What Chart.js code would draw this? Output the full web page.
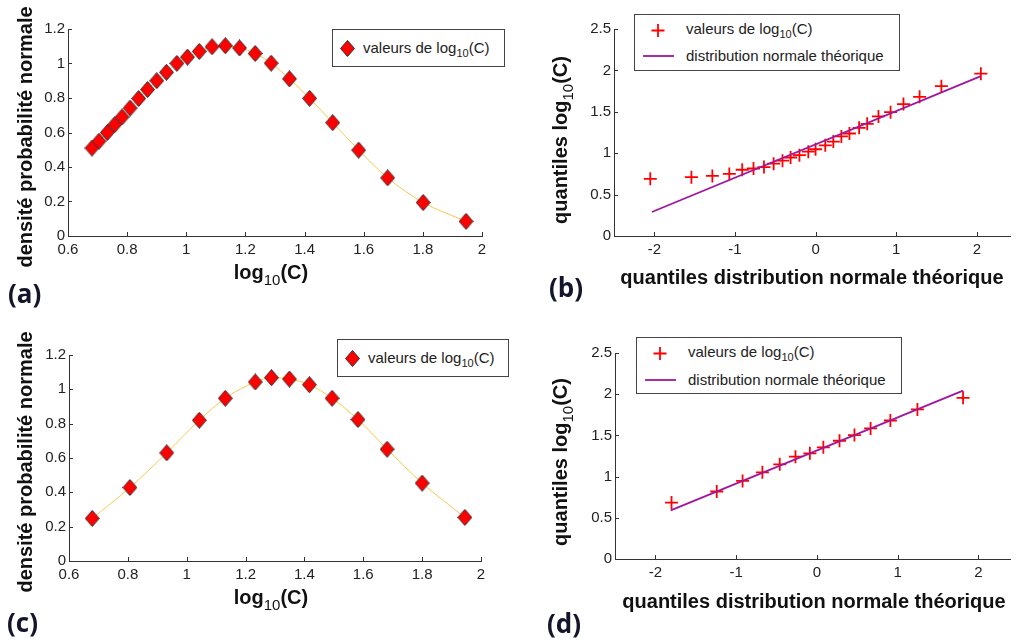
<!DOCTYPE html>
<html>
<head>
<meta charset="utf-8">
<script src="https://cdn.jsdelivr.net/npm/chart.js@4.4.1/dist/chart.umd.min.js"></script>
<style>
  body { margin: 0; background: #fff; }
  #fig { position: relative; width: 1019px; height: 642px; overflow: hidden; background: #fff;
         font-family: "Liberation Sans", Arial, sans-serif; }
  .panel { position: absolute; }
  .lbl { position: absolute; white-space: nowrap; color: #111; }
  .xt, .yt { font-weight: bold; font-size: 20px; line-height: 24px; }
  .xt { transform: translate(-50%, -50%); }
  .yt { transform: translate(-50%, -50%) rotate(-90deg); }
  .xt sub, .yt sub { font-weight: normal; font-size: 15px; vertical-align: -6px; line-height: 0; }
  .tag { font-family: "Open Sans", sans-serif; font-weight: bold; font-size: 26px; line-height: 30px;
         color: #14142b; transform: translateY(-50%); }
  .leg { position: absolute; border: 1px solid #444; background: #fff; box-sizing: border-box; }
  .leg .t { position: absolute; font-size: 15px; line-height: 18px; color: #222; white-space: nowrap;
            transform: translateY(-50%); }
  .leg .t sub { font-size: 11px; vertical-align: -4px; line-height: 0; }
  .leg svg { position: absolute; left: 0; top: 0; }
</style>
</head>
<body>
<div id="fig">
  <canvas class="panel" id="chartA" width="510" height="320" style="left:0;top:0"></canvas>
  <canvas class="panel" id="chartB" width="509" height="320" style="left:510px;top:0"></canvas>
  <canvas class="panel" id="chartC" width="510" height="322" style="left:0;top:320px"></canvas>
  <canvas class="panel" id="chartD" width="509" height="322" style="left:510px;top:320px"></canvas>

  <!-- (a) -->
  <div class="lbl yt" style="left:25px;top:137px">densité probabilité normale</div>
  <div class="lbl xt" style="left:271px;top:272px">log<sub>10</sub>(C)</div>
  <div class="lbl tag" style="left:8px;top:293px">(a)</div>
  <div class="leg" style="left:332px;top:29px;width:173px;height:38px">
    <svg width="171" height="36"><polygon points="14.5,10.5 21.5,18.5 14.5,26.5 7.5,18.5" fill="#ff0000" stroke="#333" stroke-width="1"/></svg>
    <div class="t" style="left:30px;top:18px">valeurs de log<sub>10</sub>(C)</div>
  </div>

  <!-- (b) -->
  <div class="lbl yt" style="left:560px;top:140px">quantiles log<sub>10</sub>(C)</div>
  <div class="lbl xt" style="left:812px;top:277px">quantiles distribution normale théorique</div>
  <div class="lbl tag" style="left:549px;top:287px">(b)</div>
  <div class="leg" style="left:634px;top:14px;width:266px;height:57px">
    <svg width="264" height="55"><path d="M16.5 15.5 H29.5 M23 9 V22" stroke="#ff0000" stroke-width="1.8" fill="none"/><line x1="8" y1="41" x2="39" y2="41" stroke="#a0179c" stroke-width="1.8"/></svg>
    <div class="t" style="left:51px;top:14px">valeurs de log<sub>10</sub>(C)</div>
    <div class="t" style="left:51px;top:41px">distribution normale théorique</div>
  </div>

  <!-- (c) -->
  <div class="lbl yt" style="left:25px;top:462px">densité probabilité normale</div>
  <div class="lbl xt" style="left:271px;top:597px">log<sub>10</sub>(C)</div>
  <div class="lbl tag" style="left:7px;top:622px">(c)</div>
  <div class="leg" style="left:337px;top:339px;width:172px;height:38px">
    <svg width="170" height="36"><polygon points="14.5,10.5 21.5,18.5 14.5,26.5 7.5,18.5" fill="#ff0000" stroke="#333" stroke-width="1"/></svg>
    <div class="t" style="left:30px;top:18px">valeurs de log<sub>10</sub>(C)</div>
  </div>

  <!-- (d) -->
  <div class="lbl yt" style="left:560px;top:462px">quantiles log<sub>10</sub>(C)</div>
  <div class="lbl xt" style="left:814px;top:601px">quantiles distribution normale théorique</div>
  <div class="lbl tag" style="left:547px;top:623px">(d)</div>
  <div class="leg" style="left:636px;top:337px;width:266px;height:57px">
    <svg width="264" height="55"><path d="M16.5 15.5 H29.5 M23 9 V22" stroke="#ff0000" stroke-width="1.8" fill="none"/><line x1="8" y1="42" x2="39" y2="42" stroke="#a0179c" stroke-width="1.8"/></svg>
    <div class="t" style="left:51px;top:14px">valeurs de log<sub>10</sub>(C)</div>
    <div class="t" style="left:51px;top:42px">distribution normale théorique</div>
  </div>
</div>

<script>
// ---- data ----
// (a) all values: log10(C) and fitted normal density
const logA  = [0.681, 0.705, 0.733, 0.758, 0.783, 0.810, 0.839, 0.869, 0.900, 0.933, 0.968, 1.004, 1.044,
               1.087, 1.132, 1.180, 1.233, 1.287, 1.349, 1.417, 1.495, 1.583, 1.681, 1.801, 1.946];
const densA = [0.510, 0.550, 0.600, 0.646, 0.690, 0.742, 0.797, 0.849, 0.900, 0.949, 1.001, 1.037, 1.070,
               1.097, 1.103, 1.090, 1.058, 1.002, 0.911, 0.798, 0.657, 0.498, 0.337, 0.194, 0.085];

// (b) normal QQ plot of the 25 values
const quantB = [-2.05, -1.54, -1.28, -1.07, -0.91, -0.77, -0.64, -0.52, -0.41, -0.31, -0.20, -0.09, 0.00,
                0.12, 0.22, 0.32, 0.42, 0.54, 0.64, 0.78, 0.93, 1.09, 1.29, 1.56, 2.05];
const logB   = [0.690, 0.710, 0.725, 0.750, 0.800, 0.815, 0.833, 0.873, 0.910, 0.948, 0.976, 1.018, 1.048,
                1.095, 1.140, 1.202, 1.238, 1.306, 1.355, 1.444, 1.496, 1.593, 1.681, 1.810, 1.960];
const refXB = [-2.03, 2.05];
const refYB = [0.29, 1.93];

// (c) reduced set
const logC  = [0.679, 0.807, 0.932, 1.043, 1.131, 1.233, 1.288, 1.349, 1.417, 1.494, 1.582, 1.681, 1.800, 1.945];
const densC = [0.248, 0.428, 0.630, 0.820, 0.948, 1.043, 1.068, 1.060, 1.027, 0.948, 0.824, 0.651, 0.454, 0.254];

// (d) normal QQ plot of the 14 values
const quantD = [-1.80, -1.24, -0.92, -0.675, -0.46, -0.265, -0.087, 0.08, 0.28, 0.465, 0.665, 0.91, 1.245, 1.81];
const logD   = [0.685, 0.819, 0.948, 1.052, 1.149, 1.242, 1.282, 1.355, 1.435, 1.504, 1.585, 1.681, 1.815, 1.956];
const refXD = [-1.81, 1.81];
const refYD = [0.59, 2.044];

// tick labels
const xTicksDens = [0.6, 0.8, 1, 1.2, 1.4, 1.6, 1.8, 2];
const yTicksDens = [0, 0.2, 0.4, 0.6, 0.8, 1, 1.2];
const xTicksQQ = [-2, -1, 0, 1, 2];
const yTicksQQ = [0, 0.5, 1, 1.5, 2, 2.5];

// ---- styles ----
const FONT = "'Liberation Sans', Arial, sans-serif";
const YELLOW = '#f8c84e';
const PURPLE = '#a0179c';
const AXIS = '#333';

const diamond = (() => {
    const c = document.createElement('canvas');
    c.width = 15; c.height = 17;
    const g = c.getContext('2d');
    g.beginPath();
    g.moveTo(7.5, 0.5); g.lineTo(14.5, 8.5); g.lineTo(7.5, 16.5); g.lineTo(0.5, 8.5);
    g.closePath();
    g.fillStyle = '#ff0000'; g.fill();
    g.strokeStyle = '#333'; g.lineWidth = 1; g.stroke();
    return c;
})();

const pts = (xs, ys) => xs.map((x, i) => ({ x, y: ys[i] }));

// small inward ticks, like the original figure
const inwardTicks = {
    id: 'inwardTicks',
    afterDraw(chart) {
        const { ctx, chartArea: a, scales: { x, y } } = chart;
        ctx.save();
        ctx.strokeStyle = AXIS;
        ctx.lineWidth = 1;
        ctx.beginPath();
        x.ticks.forEach(t => {
            const px = Math.round(x.getPixelForValue(t.value)) + 0.5;
            ctx.moveTo(px, a.bottom);
            ctx.lineTo(px, a.bottom - 4);
        });
        y.ticks.forEach(t => {
            const py = Math.round(y.getPixelForValue(t.value)) + 0.5;
            ctx.moveTo(a.left, py);
            ctx.lineTo(a.left + 4, py);
        });
        ctx.stroke();
        ctx.restore();
    }
};

function axis(min, max, tickVals, isX) {
    return {
        type: 'linear', min, max,
        grid: { display: false, drawTicks: false },
        border: { display: true, color: AXIS, width: 1 },
        ticks: {
            autoSkip: false, maxRotation: 0, padding: isX ? 5 : 3,
            color: '#222', font: { family: FONT, size: 15 },
            callback: v => String(v)
        },
        afterBuildTicks: s => { s.ticks = tickVals.map(v => ({ value: v })); },
        afterFit: s => { if (isX) s.height = 30; else s.width = 40; }
    };
}

function makeChart(id, datasets, xr, yr, xTicks, yTicks, padding) {
    return new Chart(document.getElementById(id), {
        type: 'scatter',
        data: { datasets },
        options: {
            responsive: false, animation: false, events: [],
            layout: { padding },
            plugins: { legend: { display: false }, tooltip: { enabled: false } },
            scales: {
                x: axis(xr[0], xr[1], xTicks, true),
                y: axis(yr[0], yr[1], yTicks, false)
            }
        },
        plugins: [inwardTicks]
    });
}

function densitySet(xs, ys) {
    return {
        data: pts(xs, ys), showLine: true,
        borderColor: YELLOW, borderWidth: 1, cubicInterpolationMode: 'monotone',
        pointStyle: diamond, pointRadius: 7
    };
}

function qqSets(qx, qy, rx, ry) {
    return [
        { data: pts(rx, ry), showLine: true, borderColor: PURPLE, borderWidth: 1.8, pointRadius: 0, order: 0 },
        { data: pts(qx, qy), pointStyle: 'cross', pointRadius: 6.5, borderColor: '#ff0000',
          borderWidth: 1.8, order: 1 }
    ];
}

makeChart('chartA', [densitySet(logA, densA)], [0.6, 2], [0, 1.2], xTicksDens, yTicksDens,
    { left: 28, right: 28, top: 29, bottom: 54 });
makeChart('chartB', qqSets(quantB, logB, refXB, refYB), [-2.5, 2.42], [0, 2.5], xTicksQQ, yTicksQQ,
    { left: 64, right: 0, top: 29, bottom: 54 });
makeChart('chartC', [densitySet(logC, densC)], [0.6, 2], [0, 1.2], xTicksDens, yTicksDens,
    { left: 29, right: 29, top: 35, bottom: 51 });
makeChart('chartD', qqSets(quantD, logD, refXD, refYD), [-2.5, 2.4], [0, 2.5], xTicksQQ, yTicksQQ,
    { left: 65, right: 0, top: 33, bottom: 53 });
</script>
</body>
</html>
